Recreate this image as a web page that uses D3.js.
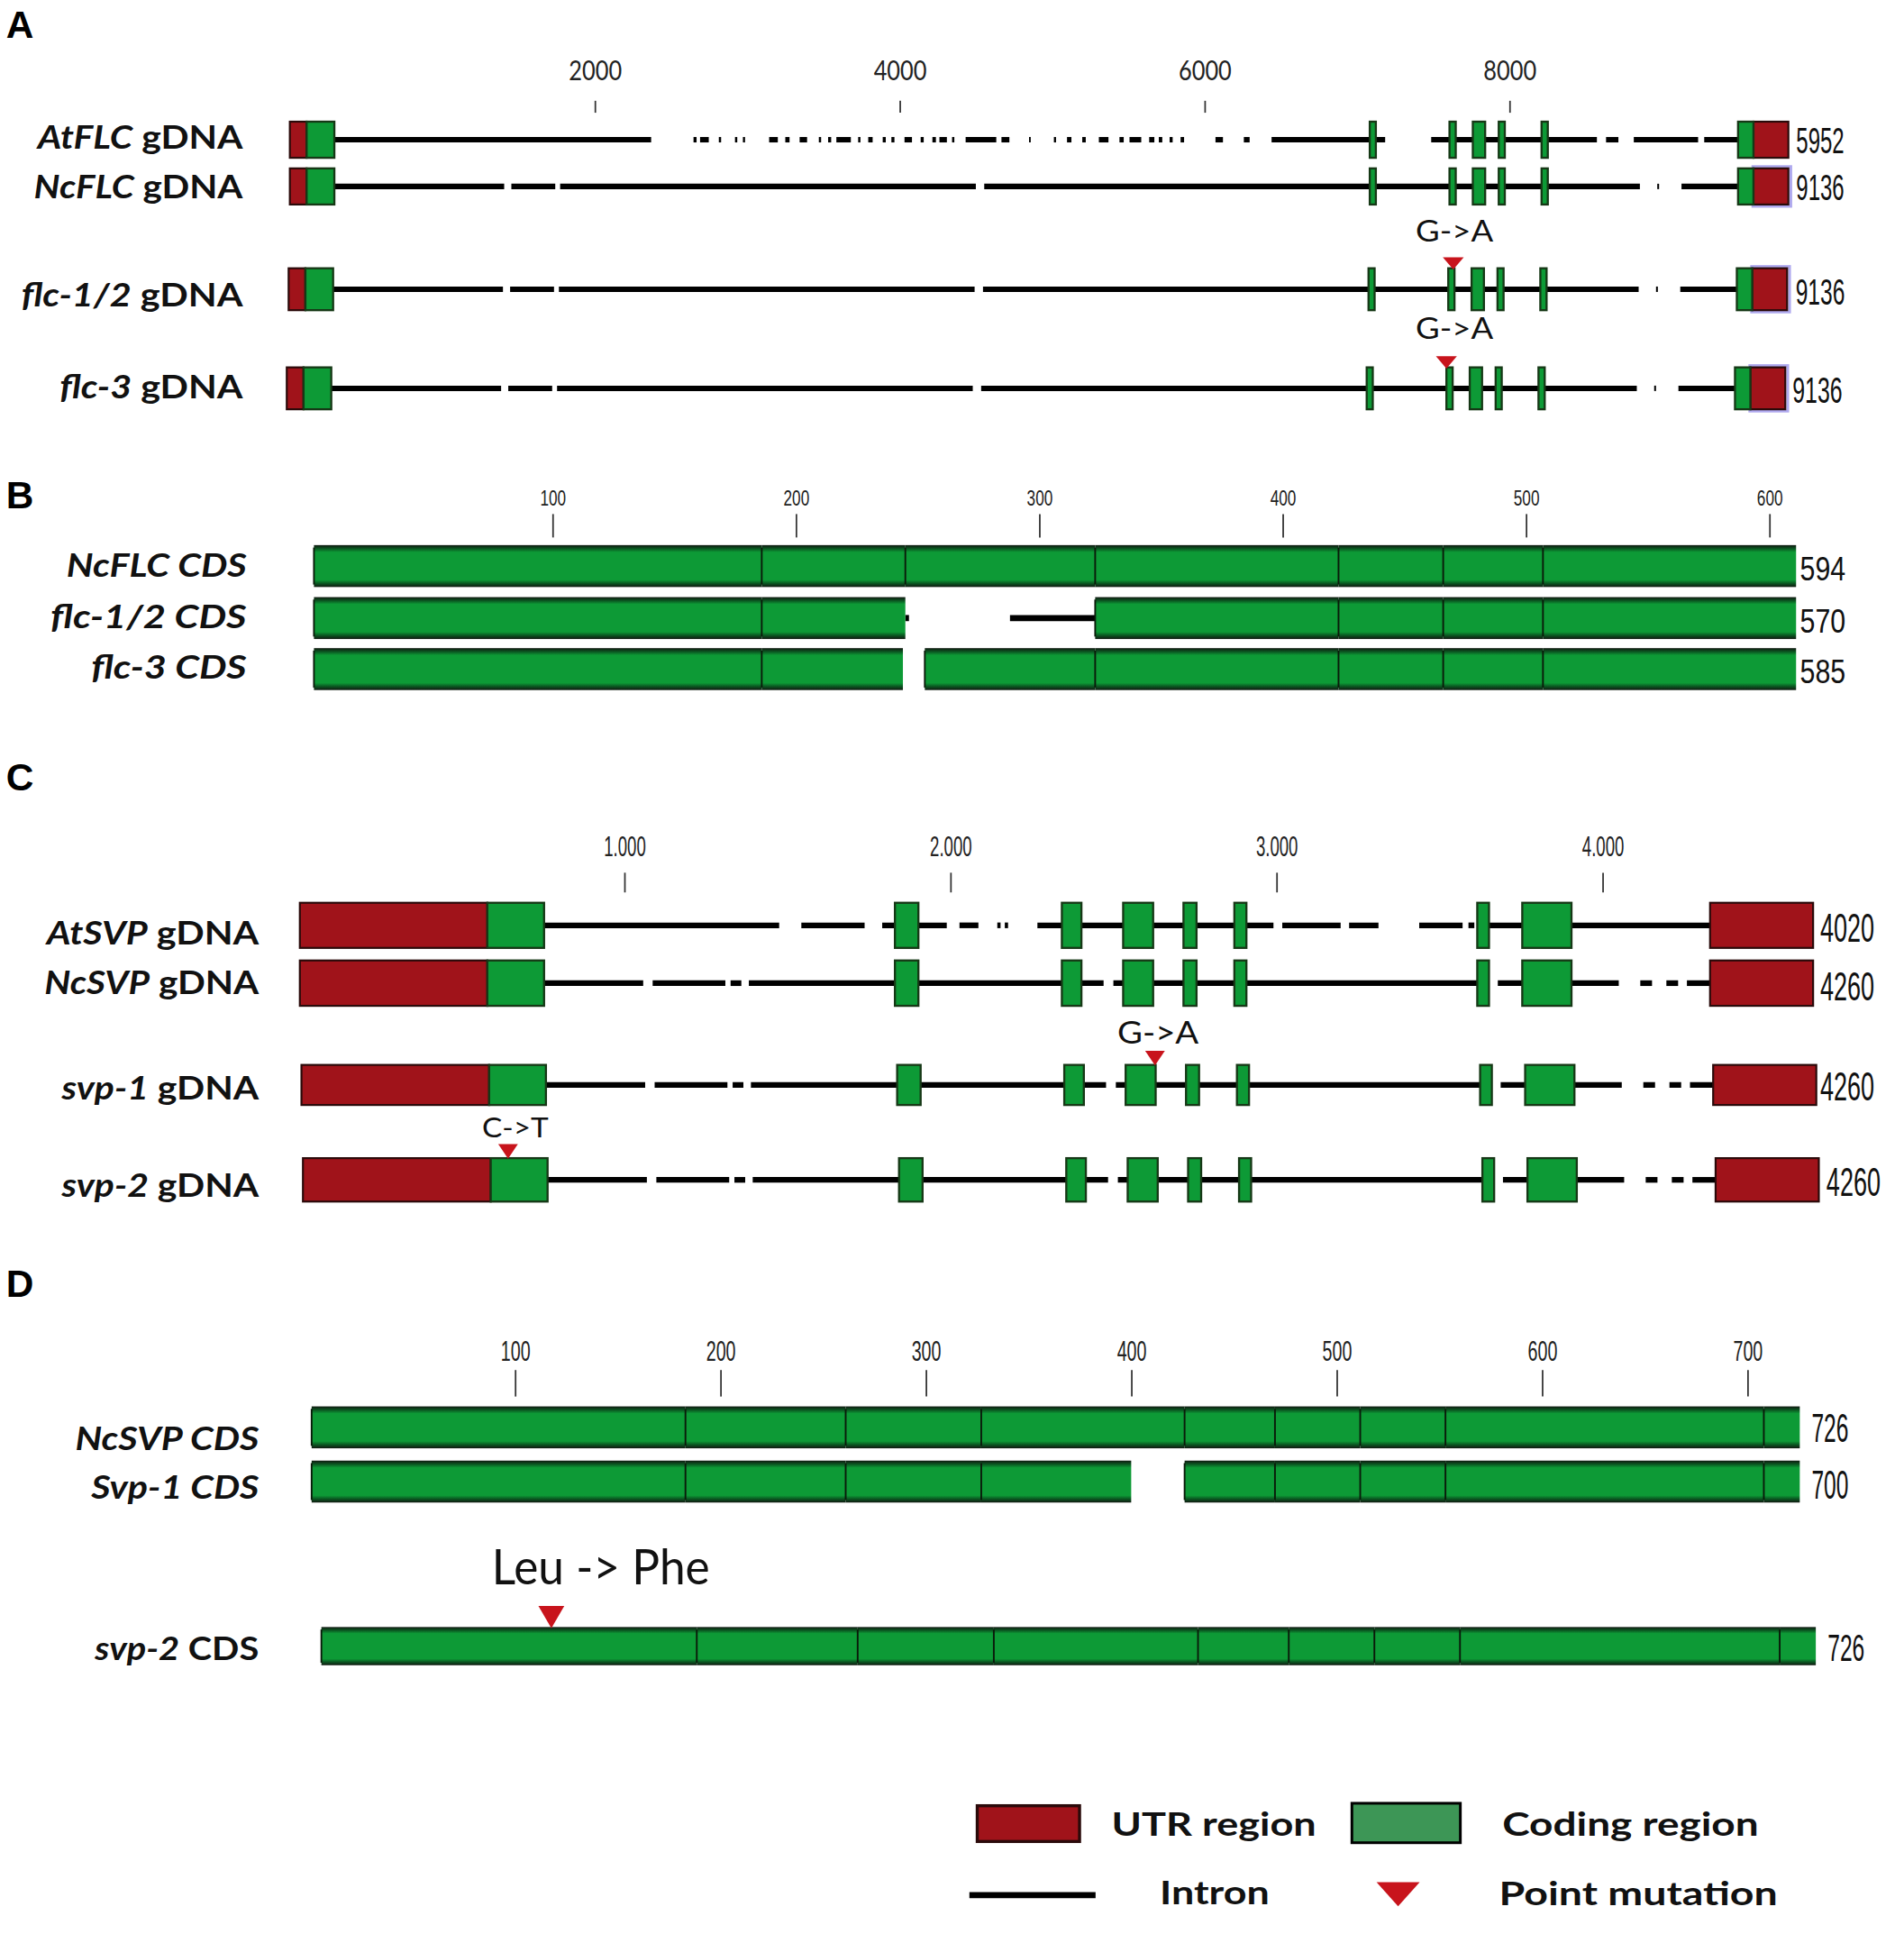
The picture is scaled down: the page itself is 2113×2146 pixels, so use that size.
<!DOCTYPE html>
<html>
<head>
<meta charset="utf-8">
<script src="https://cdn.jsdelivr.net/npm/d3@7/dist/d3.min.js"></script>
<style>
  body { margin: 0; background: #fff; }
  svg { display: block; }
</style>
</head>
<body>
<svg id="fig"></svg>
<script>
// ---------- data (alignment coordinates, bp / nt) ----------

// panel A : FLC genomic
var flcTicks = [2000, 4000, 6000, 8000];
var atFlcUtr = [[0, 110], [9601, 9830]];
var atFlcExons = [[110, 292], [7084, 7124], [7607, 7648], [7760, 7841], [7930, 7970], [8211, 8252], [9500, 9601]];
var atFlcIntrons = [
  [292, 2370], [2648, 2668], [2691, 2748], [2814, 2829], [2920, 2935], [2972, 2986],
  [3144, 3201], [3250, 3278], [3344, 3393], [3470, 3485], [3531, 3551], [3585, 3680],
  [3728, 3743], [3794, 3823], [3889, 3909], [3946, 3966], [4032, 4081], [4138, 4158],
  [4215, 4238], [4261, 4310], [4344, 4359], [4433, 4634], [4668, 4720], [4849, 4860],
  [5012, 5026], [5098, 5127], [5198, 5221], [5307, 5370], [5442, 5470], [5508, 5585],
  [5637, 5671], [5700, 5723], [5771, 5791], [5843, 5866], [6072, 6121], [6258, 6296],
  [6440, 7185], [7487, 8574], [8634, 8715], [8816, 9238], [9278, 9500]
];
var ncFlcUtr = [[0, 110], [9601, 9830]];
var ncFlcExons = [[110, 292], [7084, 7124], [7607, 7648], [7760, 7841], [7930, 7970], [8211, 8252], [9500, 9601]];
var ncFlcIntrons = [[292, 1406], [1453, 1741], [1773, 4500], [4555, 8856], [8970, 8982], [9129, 9500]];
var flcLengths = ["5952", "9136", "9136", "9136"];
var flcMutations = [{row: 2, pos: 7640, label: "G->A"}, {row: 3, pos: 7607, label: "G->A"}];

// panel B : FLC CDS
var flcCdsTicks = [100, 200, 300, 400, 500, 600];
var ncFlcCds = [[2, 186], [186, 245], [245, 323], [323, 423], [423, 466], [466, 507], [507, 611]];
var flc12Cds = [[2, 186], [186, 245], [323, 423], [423, 466], [466, 507], [507, 611]];
var flc12CdsGap = [[245, 246.5], [288, 323]];
var flc3Cds = [[2, 186], [186, 244], [253, 323], [323, 423], [423, 466], [466, 507], [507, 611]];
var flcCdsLengths = ["594", "570", "585"];

// panel C : SVP genomic
var svpTicks = [1000, 2000, 3000, 4000];
var svpTickLabels = ["1.000", "2.000", "3.000", "4.000"];
var atSvpUtr = [[5, 580], [4330, 4646]];
var atSvpExons = [[580, 754], [1830, 1902], [2342, 2402], [2530, 2622], [2715, 2755], [2871, 2908], [3616, 3652], [3754, 3905]];
var atSvpIntrons = [[754, 1475], [1543, 1737], [1791, 1989], [2028, 2086], [2144, 2154], [2167, 2177],
  [2267, 2991], [3018, 3197], [3223, 3313], [3438, 3571], [3589, 3607], [3652, 4330]];
var ncSvpUtr = [[5, 580], [4330, 4646]];
var ncSvpExons = [[580, 754], [1830, 1902], [2342, 2402], [2530, 2622], [2715, 2755], [2871, 2908], [3616, 3652], [3754, 3905]];
var ncSvpIntrons = [[754, 1058], [1087, 1310], [1326, 1359], [1382, 2470], [2500, 3652], [3679, 4050],
  [4116, 4152], [4196, 4232], [4259, 4330]];
var svpLengths = ["4020", "4260", "4260", "4260"];
var svpMutations = [{row: 2, pos: 2620, label: "G->A"}, {row: 3, pos: 633, label: "C->T"}];

// panel D : SVP CDS
var svpCdsTicks = [100, 200, 300, 400, 500, 600, 700];
var ncSvpCds = [[1, 183], [183, 261], [261, 327], [327, 426], [426, 470], [470, 511.5], [511.5, 553], [553, 708], [708, 725.5]];
var svp1Cds = [[1, 183], [183, 261], [261, 327], [327, 400], [426, 470], [470, 511.5], [511.5, 553], [553, 708], [708, 725.5]];
var svp2Cds = [[1, 183], [183, 261], [261, 327], [327, 426], [426, 470], [470, 511.5], [511.5, 553], [553, 708], [708, 725.5]];
var svpCdsLengths = ["726", "700", "726"];
var svpCdsMutation = {pos: 112.5, label: "Leu -> Phe"};

// ---------- drawing ----------
var W = 1545, H = 1569;
var svg = d3.select("#fig")
  .attr("width", 2113).attr("height", 2146)
  .attr("viewBox", "0 0 " + W + " " + H);

var GREEN = "#0d9a36", RED = "#a0131a", TRI = "#c8141c";
var LABEL_FONT = "Lato, 'Open Sans', sans-serif";
var NARROW = "'Liberation Sans Narrow', 'Liberation Sans', Arial, sans-serif";

var defs = svg.append("defs");
var grad = defs.append("linearGradient").attr("id", "cdsBar")
  .attr("x1", 0).attr("y1", 0).attr("x2", 0).attr("y2", 1);
[[0, "#101810"], [0.09, "#0a5a22"], [0.17, GREEN], [0.83, GREEN], [0.91, "#0a5a22"], [1, "#101810"]]
  .forEach(function (s) { grad.append("stop").attr("offset", s[0]).attr("stop-color", s[1]); });

// text helper: parts = [[text, italic], ...]; the text is squeezed to width len
function txt(g, x, y, parts, size, len, opts) {
  opts = opts || {};
  var t = g.append("text").attr("x", 0).attr("y", 0)
    .attr("transform", "translate(" + x + "," + y + ")")
    .attr("font-family", opts.font || LABEL_FONT)
    .attr("font-size", size)
    .attr("font-weight", opts.weight || "normal")
    .attr("fill", "#111");
  parts.forEach(function (p) {
    t.append("tspan").text(p[0]).attr("font-style", p[1] ? "italic" : "normal");
  });
  if (len) {
    var w = t.node().getComputedTextLength();
    if (w > 0) t.attr("transform", "translate(" + x + "," + y + ") scale(" + (len / w) + ",1)");
  }
  return t;
}

function rowScale(base, dx0, dx1) {
  var r = base.range();
  return base.copy().range([r[0] + dx0, r[1] + dx1]);
}

function drawAxis(g, x, y, ticks, labels, size, padding, fontSize, labelLen, font) {
  var ax = d3.axisTop(x).tickValues(ticks).tickSize(size).tickPadding(padding)
    .tickFormat(function (d, i) { return labels ? labels[i] : d; });
  var a = g.append("g").attr("transform", "translate(0," + y + ")").call(ax);
  a.select(".domain").remove();
  a.selectAll(".tick line").attr("stroke", "#333").attr("stroke-width", 1.3);
  a.selectAll(".tick text").attr("font-family", font).attr("font-size", fontSize)
    .attr("fill", "#222").attr("dy", 0)
    .each(function () {
      var w = this.getComputedTextLength();
      if (w > 0) d3.select(this).attr("transform", "scale(" + (labelLen / w) + ",1)");
    });
}

function drawGene(g, x, cy, h, gene, lw, glow) {
  g.append("g").selectAll("line").data(gene.introns).join("line")
    .attr("x1", function (d) { return x(d[0]); })
    .attr("x2", function (d) { return x(d[1]); })
    .attr("y1", cy).attr("y2", cy)
    .attr("stroke", "#000").attr("stroke-width", lw);
  if (glow) {
    var last = gene.utr[gene.utr.length - 1];
    g.append("rect").attr("x", x(last[0]) - 0.5).attr("y", cy - h / 2 - 1.5)
      .attr("width", x(last[1]) - x(last[0]) + 2.5).attr("height", h + 3)
      .attr("fill", "none").attr("stroke", "#6d63e0").attr("stroke-width", 2.2).attr("opacity", 0.55);
  }
  g.append("g").selectAll("rect").data(gene.utr).join("rect")
    .attr("x", function (d) { return x(d[0]); })
    .attr("width", function (d) { return x(d[1]) - x(d[0]); })
    .attr("y", cy - h / 2).attr("height", h)
    .attr("fill", RED).attr("stroke", "#2a0a0a").attr("stroke-width", 1.6);
  g.append("g").selectAll("rect").data(gene.exons).join("rect")
    .attr("x", function (d) { return x(d[0]); })
    .attr("width", function (d) { return Math.max(x(d[1]) - x(d[0]), 1); })
    .attr("y", cy - h / 2).attr("height", h)
    .attr("fill", GREEN).attr("stroke", "#163816").attr("stroke-width", 1.7);
}

function drawCds(g, x, cy, h, blocks, gaps) {
  if (gaps) {
    g.append("g").selectAll("line").data(gaps).join("line")
      .attr("x1", function (d) { return x(d[0]); })
      .attr("x2", function (d) { return x(d[1]); })
      .attr("y1", cy).attr("y2", cy)
      .attr("stroke", "#000").attr("stroke-width", 5);
  }
  g.append("g").selectAll("rect").data(blocks).join("rect")
    .attr("x", function (d) { return x(d[0]); })
    .attr("width", function (d) { return x(d[1]) - x(d[0]); })
    .attr("y", cy - h / 2).attr("height", h)
    .attr("fill", "url(#cdsBar)");
  g.append("g").selectAll("line").data(blocks).join("line")
    .attr("x1", function (d) { return x(d[0]); }).attr("x2", function (d) { return x(d[0]); })
    .attr("y1", cy - h / 2 + 2).attr("y2", cy + h / 2 - 2)
    .attr("stroke", "#0a1a0a").attr("stroke-width", 1.4);
}

function triangle(g, xTip, yTip, w, h) {
  g.append("path")
    .attr("d", "M" + (xTip - w / 2) + "," + (yTip - h) + "L" + (xTip + w / 2) + "," + (yTip - h) + "L" + xTip + "," + yTip + "Z")
    .attr("fill", TRI);
}

// panel letters
[["A", 30.5], ["B", 412], ["C", 641], ["D", 1052]].forEach(function (p) {
  svg.append("text").attr("x", 5).attr("y", p[1]).text(p[0])
    .attr("font-family", "'Liberation Sans', Arial, sans-serif")
    .attr("font-weight", "bold").attr("font-size", 31).attr("fill", "#000");
});

// ----- panel A -----
var gA = svg.append("g");
var xA = d3.scaleLinear().domain([0, 10000]).range([235.2, 1472.2]);
drawAxis(gA, xA, 91.4, flcTicks, null, 9.7, 17, 22, 43, LABEL_FONT);

var atFlc = {utr: atFlcUtr, exons: atFlcExons, introns: atFlcIntrons};
var ncFlc = {utr: ncFlcUtr, exons: ncFlcExons, introns: ncFlcIntrons};
var rowsA = [
  {gene: atFlc, name: [["AtFLC", 1], [" gDNA", 0]], cy: 113.3, h: 29.3, dx: 0, glow: false, lx: 30.6, ly: 120.6, num: [1457.5, 124.3, 39]},
  {gene: ncFlc, name: [["NcFLC", 1], [" gDNA", 0]], cy: 151.2, h: 29.3, dx: 0, glow: true, lx: 27.5, ly: 160.9, num: [1457.5, 162.3, 39]},
  {gene: ncFlc, name: [["flc-1/2", 1], [" gDNA", 0]], cy: 234.6, h: 34, dx: -1, glow: true, lx: 17.3, ly: 248.6, num: [1457, 247, 40]},
  {gene: ncFlc, name: [["flc-3", 1], [" gDNA", 0]], cy: 315, h: 34, dx: -2.5, glow: true, lx: 48.4, ly: 323, num: [1454.5, 327, 40.5]}
];
rowsA.forEach(function (r, i) {
  var x = rowScale(xA, r.dx, r.dx);
  drawGene(gA, x, r.cy, r.h, r.gene, 4.4, r.glow);
  txt(gA, r.lx, r.ly, r.name, 26, 197 - r.lx, {weight: "bold"});
  txt(gA, r.num[0], r.num[1], [[flcLengths[i], 0]], 30, r.num[2], {font: NARROW});
  r.x = x;
});
flcMutations.forEach(function (m, k) {
  var r = rowsA[m.row];
  var xt = r.x(m.pos);
  triangle(gA, xt, r.cy - r.h / 2 + 1, 17, 10);
  txt(gA, 1148.7, r.cy - r.h / 2 - 22 - (k ? 1.5 : 0), [[m.label, 0]], 24, 63);
});

// ----- panel B -----
var gB = svg.append("g");
var xB = d3.scaleLinear().domain([0, 620]).range([250.8, 1475.2]);
drawAxis(gB, xB, 436, flcCdsTicks, null, 19, 7, 18, 21, NARROW);
var rowsB = [
  {blocks: ncFlcCds, gaps: null, name: [["NcFLC CDS", 1]], cy: 459.2, lx: 54, ly: 468},
  {blocks: flc12Cds, gaps: flc12CdsGap, name: [["flc-1/2 CDS", 1]], cy: 501.4, lx: 41, ly: 509.4},
  {blocks: flc3Cds, gaps: null, name: [["flc-3 CDS", 1]], cy: 542.8, lx: 74, ly: 550.8}
];
rowsB.forEach(function (r, i) {
  drawCds(gB, xB, r.cy, 34, r.blocks, r.gaps);
  txt(gB, r.lx, r.ly, r.name, 26, 200 - r.lx, {weight: "bold"});
  txt(gB, 1460.6, r.cy + 11.5, [[flcCdsLengths[i], 0]], 27, 37, {font: NARROW});
});

// ----- panel C -----
var gC = svg.append("g");
var xC = d3.scaleLinear().domain([0, 5000]).range([242, 1564.9]);
drawAxis(gC, xC, 724, svpTicks, svpTickLabels, 16, 13.4, 23, 34, NARROW);
var atSvp = {utr: atSvpUtr, exons: atSvpExons, introns: atSvpIntrons};
var ncSvp = {utr: ncSvpUtr, exons: ncSvpExons, introns: ncSvpIntrons};
var rowsC = [
  {gene: atSvp, name: [["AtSVP", 1], [" gDNA", 0]], cy: 750.7, h: 36.6, dx0: 0, dx1: 0, lx: 37.8, ly: 766.5, num: [1477, 764]},
  {gene: ncSvp, name: [["NcSVP", 1], [" gDNA", 0]], cy: 797.6, h: 36.8, dx0: 0, dx1: 0, lx: 36, ly: 806.6, num: [1477, 811.7]},
  {gene: ncSvp, name: [["svp-1", 1], [" gDNA", 0]], cy: 880.2, h: 32.5, dx0: 1.3, dx1: 2.7, lx: 50, ly: 892, num: [1477, 893]},
  {gene: ncSvp, name: [["svp-2", 1], [" gDNA", 0]], cy: 957.2, h: 35.2, dx0: 2.5, dx1: 4.8, lx: 50, ly: 971, num: [1482, 970]}
];
rowsC.forEach(function (r, i) {
  var x = rowScale(xC, r.dx0, r.dx1);
  drawGene(gC, x, r.cy, r.h, r.gene, 4.6, false);
  txt(gC, r.lx, r.ly, r.name, 27, 210 - r.lx, {weight: "bold"});
  txt(gC, r.num[0], r.num[1], [[svpLengths[i], 0]], 33, 44, {font: NARROW});
  r.x = x;
});
svpMutations.forEach(function (m, k) {
  var r = rowsC[m.row];
  var xt = r.x(m.pos);
  triangle(gC, xt, r.cy - r.h / 2 + 0.5, 16, 12);
  if (k === 0) txt(gC, 906.7, 847, [[m.label, 0]], 25, 66);
  else txt(gC, 391.2, 922.6, [[m.label, 0]], 22, 54);
});

// ----- panel D -----
var gD = svg.append("g");
var xD = d3.scaleLinear().domain([0, 740]).range([251.2, 1484.6]);
drawAxis(gD, xD, 1133, svpCdsTicks, null, 21.5, 7.5, 23, 24, NARROW);
var rowsD = [
  {blocks: ncSvpCds, name: [["NcSVP CDS", 1]], cy: 1158, h: 34, dx0: 0, dx1: 0, lx: 61, ly: 1176.6, num: [1470, 1170, 33]},
  {blocks: svp1Cds, name: [["Svp-1 CDS", 1]], cy: 1202, h: 34, dx0: 0, dx1: 0, lx: 74, ly: 1216, num: [1470, 1216, 33]},
  {blocks: svp2Cds, name: [["svp-2", 1], [" CDS", 0]], cy: 1335.5, h: 31, dx0: 7.9, dx1: 13.1, lx: 77, ly: 1346.6, num: [1483, 1347.8, 31]}
];
rowsD.forEach(function (r, i) {
  var x = rowScale(xD, r.dx0, r.dx1);
  drawCds(gD, x, r.cy, r.h, r.blocks, null);
  txt(gD, r.lx, r.ly, r.name, 27, 210 - r.lx, {weight: "bold"});
  txt(gD, r.num[0], r.num[1], [[svpCdsLengths[i], 0]], r.num[2], 30, {font: NARROW});
  r.x = x;
});
(function () {
  var r = rowsD[2];
  var xt = r.x(svpCdsMutation.pos);
  triangle(gD, xt, r.cy - r.h / 2 + 1, 21, 18);
  txt(gD, 399, 1285.6, [[svpCdsMutation.label, 0]], 39, 177);
})();

// ----- legend -----
var gL = svg.append("g");
gL.append("rect").attr("x", 793).attr("y", 1465).attr("width", 83).attr("height", 29)
  .attr("fill", RED).attr("stroke", "#2a0a0a").attr("stroke-width", 2.5);
txt(gL, 902, 1489.3, [["UTR region", 0]], 27, 166, {weight: "bold"});
gL.append("rect").attr("x", 1097).attr("y", 1463).attr("width", 88).attr("height", 32)
  .attr("fill", "#3d9656").attr("stroke", "#000").attr("stroke-width", 2.2);
txt(gL, 1219, 1489.7, [["Coding region", 0]], 27, 208, {weight: "bold"});
gL.append("line").attr("x1", 786.6).attr("x2", 889).attr("y1", 1537.5).attr("y2", 1537.5)
  .attr("stroke", "#000").attr("stroke-width", 5);
txt(gL, 941, 1545, [["Intron", 0]], 27, 89, {weight: "bold"});
triangle(gL, 1134.5, 1546.6, 35, 19.6);
txt(gL, 1216.4, 1546, [["Point mutation", 0]], 27, 226, {weight: "bold"});
</script>
</body>
</html>
